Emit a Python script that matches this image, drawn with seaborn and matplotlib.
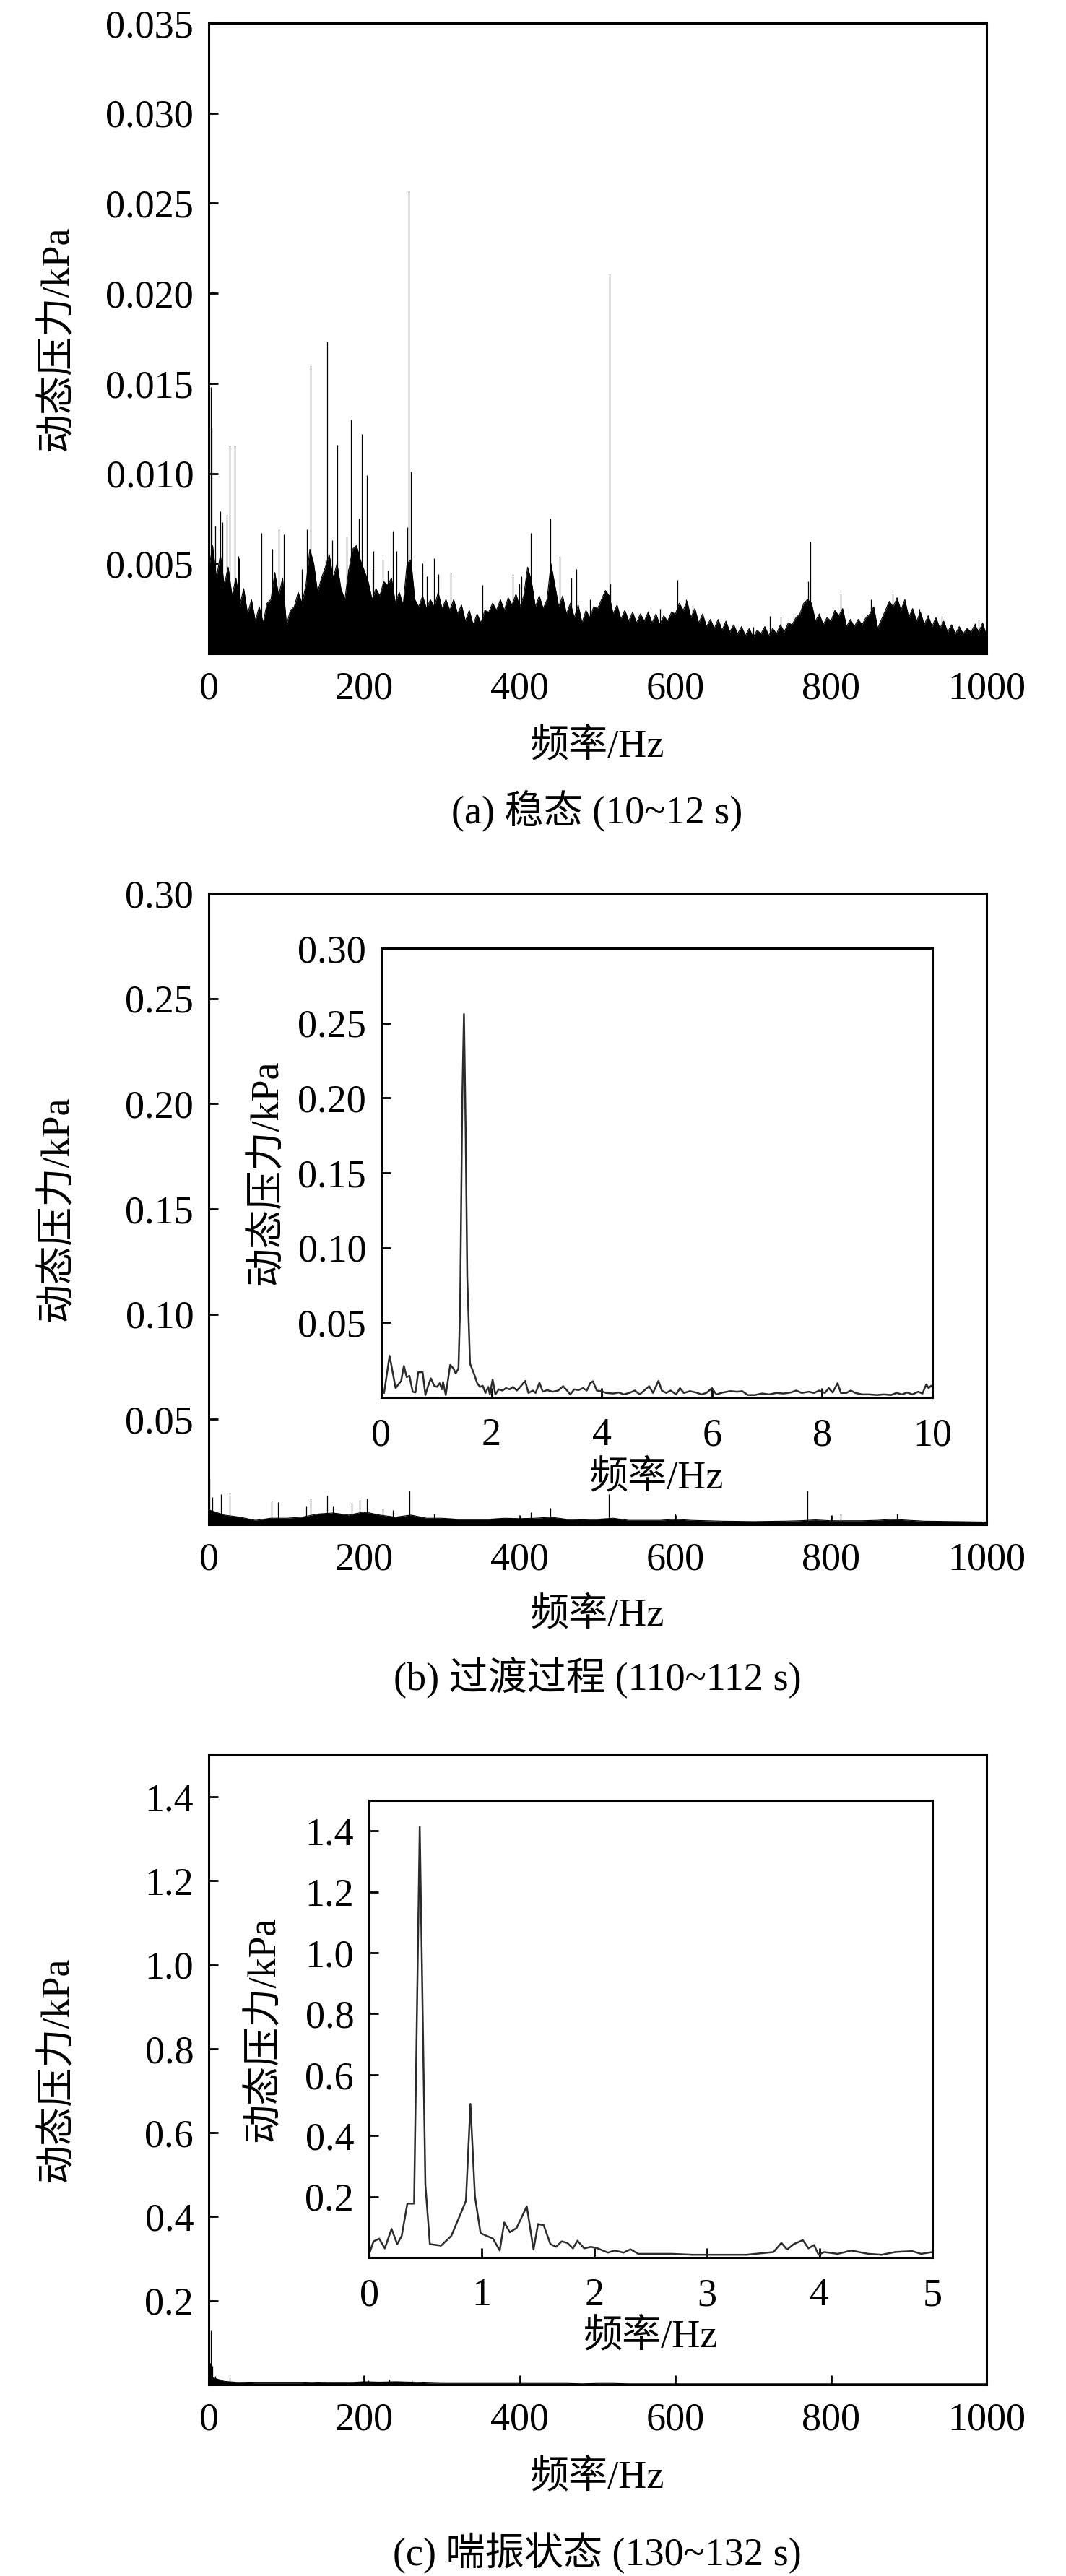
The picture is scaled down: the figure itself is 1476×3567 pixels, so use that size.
import numpy as np
import matplotlib
matplotlib.use("Agg")
import matplotlib.pyplot as plt
from matplotlib.ticker import FormatStrFormatter
import seaborn as sns

# ==============================================================
# DADOS
# ==============================================================
XLABEL = "频率/Hz"
YLABEL = "动态压力/kPa"
CAPTIONS = ["(a) 稳态 (10~12 s)", "(b) 过渡过程 (110~112 s)", "(c) 喘振状态 (130~132 s)"]

# (a) estado estável: topo da massa de ruído em 0, 10, ..., 1000 Hz
A_BAND_BASE = [
    0.0046, 0.0042, 0.0038, 0.0032, 0.0027, 0.0022, 0.0018, 0.0017, 0.0030, 0.0032,
    0.0016, 0.0026, 0.0028, 0.0058, 0.0034, 0.0048, 0.0042, 0.0036, 0.0046, 0.0060,
    0.0046, 0.0030, 0.0032, 0.0038, 0.0028, 0.0027, 0.0052, 0.0026, 0.0025, 0.0026,
    0.0025, 0.0024, 0.0022, 0.0018, 0.0016, 0.0017, 0.0023, 0.0024, 0.0024, 0.0027,
    0.0026, 0.0048, 0.0026, 0.0025, 0.0050, 0.0026, 0.0022, 0.0020, 0.0017, 0.0020,
    0.0025, 0.0035, 0.0022, 0.0019, 0.0018, 0.0017, 0.0018, 0.0017, 0.0016, 0.0018,
    0.0022, 0.0024, 0.0020, 0.0017, 0.0015, 0.0014, 0.0013, 0.0012, 0.0011, 0.0010,
    0.0009, 0.0011, 0.0010, 0.0011, 0.0012, 0.0016, 0.0022, 0.0030, 0.0018, 0.0016,
    0.0018, 0.0021, 0.0015, 0.0015, 0.0016, 0.0022, 0.0014, 0.0024, 0.0026, 0.0024,
    0.0020, 0.0018, 0.0016, 0.0015, 0.0014, 0.0012, 0.0011, 0.0011, 0.0012, 0.0012,
    0.0010,
]
# (a) pontas intermediárias em 5, 15, ..., 995 Hz
A_BAND_TIP = [
    0.0060, 0.0055, 0.0048, 0.0042, 0.0036, 0.0030, 0.0026, 0.0028, 0.0045, 0.0042,
    0.0024, 0.0034, 0.0038, 0.0050, 0.0042, 0.0055, 0.0050, 0.0030, 0.0058, 0.0052,
    0.0040, 0.0036, 0.0040, 0.0042, 0.0034, 0.0050, 0.0030, 0.0032, 0.0030, 0.0034,
    0.0030, 0.0030, 0.0027, 0.0024, 0.0022, 0.0024, 0.0028, 0.0030, 0.0031, 0.0033,
    0.0032, 0.0040, 0.0032, 0.0030, 0.0038, 0.0032, 0.0028, 0.0027, 0.0024, 0.0026,
    0.0030, 0.0032, 0.0027, 0.0024, 0.0023, 0.0022, 0.0023, 0.0022, 0.0021, 0.0023,
    0.0028, 0.0029, 0.0025, 0.0022, 0.0019, 0.0019, 0.0018, 0.0016, 0.0015, 0.0014,
    0.0013, 0.0015, 0.0014, 0.0016, 0.0017, 0.0020, 0.0028, 0.0028, 0.0022, 0.0020,
    0.0024, 0.0025, 0.0019, 0.0019, 0.0020, 0.0026, 0.0019, 0.0029, 0.0031, 0.0030,
    0.0025, 0.0023, 0.0021, 0.0020, 0.0018, 0.0016, 0.0015, 0.0014, 0.0016, 0.0017,
]
A_SPIKES = [
    (3, 0.0148), (4, 0.0125), (8, 0.0071), (15, 0.0079), (18, 0.0073), (23, 0.0077),
    (27, 0.0116), (33, 0.0116), (38, 0.0054), (39, 0.0053), (68, 0.0067), (82, 0.0058),
    (90, 0.0069), (97, 0.0066), (120, 0.0047), (126, 0.0069), (131, 0.0160),
    (150, 0.0052), (152, 0.0173), (159, 0.0063), (165, 0.0116), (177, 0.0065),
    (179, 0.0047), (183, 0.0130), (193, 0.0075), (197, 0.0122), (203, 0.0099),
    (211, 0.0047), (212, 0.0057), (224, 0.0052), (230, 0.0046), (237, 0.0068),
    (241, 0.0057), (255, 0.0070), (257, 0.0257), (260, 0.0101), (275, 0.0050),
    (280, 0.0043), (290, 0.0053), (295, 0.0044), (311, 0.0045), (352, 0.0038),
    (391, 0.0044), (399, 0.0039), (402, 0.0043), (414, 0.0067), (439, 0.0075),
    (451, 0.0054), (466, 0.0042), (473, 0.0047), (490, 0.0030), (515, 0.0211),
    (516, 0.0039), (580, 0.0025), (603, 0.0041), (614, 0.0030), (622, 0.0027),
    (700, 0.0015), (721, 0.0021), (735, 0.0020), (771, 0.0040), (773, 0.0062),
    (812, 0.0033), (851, 0.0030), (879, 0.0033), (914, 0.0025), (942, 0.0021),
    (985, 0.0017), (990, 0.0019),
]

# (b) processo de transição: topo do ruído a cada 20 Hz (0..1000)
B_BAND_KPA = [
    0.0070, 0.0045, 0.0035, 0.0020, 0.0030, 0.0030, 0.0035, 0.0050, 0.0055, 0.0045,
    0.0060, 0.0045, 0.0035, 0.0045, 0.0030, 0.0030, 0.0025, 0.0025, 0.0025, 0.0030,
    0.0028, 0.0030, 0.0035, 0.0025, 0.0022, 0.0025, 0.0030, 0.0020, 0.0020, 0.0020,
    0.0025, 0.0020, 0.0018, 0.0016, 0.0015, 0.0014, 0.0015, 0.0016, 0.0018, 0.0022,
    0.0018, 0.0018, 0.0018, 0.0020, 0.0025, 0.0020, 0.0016, 0.0015, 0.0014, 0.0013,
    0.0012,
]
B_SPIKES = [
    (1, 0.0220), (5, 0.0130), (16, 0.0144), (27, 0.0150), (81, 0.0110), (89, 0.0107),
    (125, 0.0085), (131, 0.0124), (152, 0.0136), (160, 0.0085), (184, 0.0103),
    (194, 0.0118), (203, 0.0124), (224, 0.0080), (237, 0.0070), (258, 0.0163),
    (290, 0.0050), (414, 0.0060), (439, 0.0079), (514, 0.0144), (600, 0.0052),
    (770, 0.0163), (812, 0.0050), (885, 0.0050),
]
B_INSET = [
    (0.00, 0.0030), (0.05, 0.0030), (0.15, 0.0278), (0.26, 0.0062), (0.31, 0.0087),
    (0.36, 0.0110), (0.41, 0.0210), (0.46, 0.0136), (0.51, 0.0144), (0.57, 0.0038),
    (0.62, 0.0033), (0.67, 0.0168), (0.75, 0.0168), (0.80, 0.0016), (0.85, 0.0078),
    (0.90, 0.0127), (0.96, 0.0078), (1.01, 0.0070), (1.06, 0.0095), (1.10, 0.0054),
    (1.12, 0.0103), (1.17, 0.0016), (1.25, 0.0217), (1.31, 0.0193), (1.35, 0.0160),
    (1.40, 0.0193), (1.43, 0.0600), (1.47, 0.2000), (1.50, 0.2560), (1.53, 0.1800),
    (1.56, 0.0800), (1.61, 0.0225), (1.68, 0.0160), (1.74, 0.0095), (1.79, 0.0070),
    (1.84, 0.0078), (1.89, 0.0030), (1.94, 0.0070), (1.97, 0.0020), (2.02, 0.0119),
    (2.07, 0.0020), (2.13, 0.0054), (2.20, 0.0046), (2.26, 0.0062), (2.33, 0.0054),
    (2.39, 0.0070), (2.46, 0.0046), (2.52, 0.0070), (2.61, 0.0110), (2.67, 0.0030),
    (2.75, 0.0046), (2.80, 0.0030), (2.87, 0.0098), (2.93, 0.0038), (3.01, 0.0049),
    (3.11, 0.0038), (3.21, 0.0046), (3.30, 0.0075), (3.37, 0.0046), (3.43, 0.0020),
    (3.50, 0.0054), (3.58, 0.0049), (3.66, 0.0062), (3.73, 0.0046), (3.79, 0.0095),
    (3.84, 0.0108), (3.91, 0.0046), (3.99, 0.0042), (4.08, 0.0030), (4.21, 0.0026),
    (4.31, 0.0033), (4.40, 0.0020), (4.50, 0.0030), (4.60, 0.0046), (4.69, 0.0020),
    (4.77, 0.0046), (4.86, 0.0075), (4.93, 0.0030), (5.03, 0.0110), (5.09, 0.0046),
    (5.17, 0.0030), (5.25, 0.0046), (5.35, 0.0020), (5.42, 0.0062), (5.49, 0.0030),
    (5.60, 0.0042), (5.71, 0.0033), (5.81, 0.0020), (5.90, 0.0030), (6.00, 0.0062),
    (6.08, 0.0020), (6.20, 0.0033), (6.33, 0.0042), (6.46, 0.0038), (6.55, 0.0042),
    (6.65, 0.0016), (6.78, 0.0016), (6.91, 0.0026), (7.04, 0.0020), (7.17, 0.0030),
    (7.30, 0.0026), (7.43, 0.0033), (7.53, 0.0046), (7.63, 0.0030), (7.76, 0.0038),
    (7.85, 0.0030), (7.95, 0.0046), (8.05, 0.0030), (8.12, 0.0062), (8.19, 0.0033),
    (8.28, 0.0095), (8.34, 0.0030), (8.44, 0.0030), (8.52, 0.0046), (8.60, 0.0030),
    (8.73, 0.0020), (8.86, 0.0020), (8.99, 0.0016), (9.12, 0.0020), (9.25, 0.0016),
    (9.35, 0.0030), (9.45, 0.0020), (9.54, 0.0033), (9.64, 0.0020), (9.74, 0.0038),
    (9.82, 0.0026), (9.89, 0.0087), (9.93, 0.0062), (9.98, 0.0078),
]

# (c) surge: topo do ruído a cada 20 Hz (0..1000)
C_BAND_KPA = [
    0.020, 0.008, 0.005, 0.004, 0.004, 0.004, 0.004, 0.006, 0.005, 0.005,
    0.007, 0.006, 0.007, 0.006, 0.004, 0.003, 0.003, 0.003, 0.003, 0.003,
    0.003, 0.003, 0.003, 0.003, 0.002, 0.003, 0.003, 0.002, 0.002, 0.002,
    0.002, 0.002, 0.002, 0.002, 0.002, 0.002, 0.002, 0.002, 0.002, 0.002,
    0.002, 0.002, 0.002, 0.002, 0.002, 0.002, 0.002, 0.002, 0.002, 0.002,
    0.002,
]
C_SPIKES = [
    (2, 0.052), (3, 0.129), (5, 0.045), (8, 0.020), (12, 0.012), (27, 0.018),
    (140, 0.007), (205, 0.010), (232, 0.012), (262, 0.009),
]
C_INSET = [
    (0.00, 0.010), (0.04, 0.053), (0.09, 0.062), (0.14, 0.030), (0.20, 0.094),
    (0.25, 0.044), (0.29, 0.071), (0.34, 0.177), (0.40, 0.177), (0.45, 1.414),
    (0.50, 0.240), (0.54, 0.044), (0.64, 0.039), (0.73, 0.071), (0.82, 0.150),
    (0.86, 0.186), (0.90, 0.504), (0.94, 0.200), (0.99, 0.080), (1.10, 0.062),
    (1.16, 0.023), (1.20, 0.115), (1.25, 0.083), (1.31, 0.097), (1.40, 0.168),
    (1.46, 0.026), (1.50, 0.110), (1.55, 0.106), (1.61, 0.044), (1.66, 0.035),
    (1.71, 0.053), (1.76, 0.048), (1.81, 0.030), (1.85, 0.055), (1.91, 0.030),
    (1.97, 0.035), (2.03, 0.030), (2.12, 0.016), (2.18, 0.023), (2.26, 0.016),
    (2.32, 0.027), (2.39, 0.012), (2.51, 0.012), (2.69, 0.012), (2.87, 0.009),
    (3.11, 0.009), (3.35, 0.009), (3.59, 0.018), (3.66, 0.048), (3.71, 0.026),
    (3.77, 0.044), (3.85, 0.057), (3.90, 0.030), (3.95, 0.041), (3.99, 0.009),
    (4.04, 0.018), (4.16, 0.012), (4.28, 0.023), (4.43, 0.012), (4.55, 0.009),
    (4.67, 0.018), (4.82, 0.021), (4.90, 0.012), (5.00, 0.018),
]

# ==============================================================
# ESTILO
# ==============================================================
sns.set_theme(style="ticks")
plt.rcParams.update({
    "font.family": ["Liberation Serif", "Noto Sans CJK SC"],
    "font.size": 39,
    "axes.labelsize": 39,
    "axes.linewidth": 2.2,
    "axes.edgecolor": "black",
    "axes.facecolor": "white",
    "xtick.direction": "in",
    "ytick.direction": "in",
    "xtick.major.size": 9.5,
    "ytick.major.size": 9.5,
    "xtick.major.width": 2.0,
    "ytick.major.width": 2.0,
    "xtick.labelsize": 39,
    "ytick.labelsize": 39,
    "xtick.color": "black",
    "ytick.color": "black",
    "text.color": "black",
    "axes.labelcolor": "black",
})

W, H = 1476, 3567


def rect(left, top, right, bottom):
    return [left / W, 1 - bottom / H, (right - left) / W, (bottom - top) / H]


def draw_spectrum(ax, band_hz, band_kpa, spikes):
    ax.fill_between(band_hz, 0, band_kpa, color="black", lw=0)
    sns.lineplot(x=band_hz, y=band_kpa, ax=ax, color="black", lw=0.8, estimator=None)
    hz, kpa = zip(*spikes)
    ax.vlines(hz, 0, kpa, color="black", lw=0.9)


def draw_inset(ax, pts):
    hz, kpa = zip(*pts)
    sns.lineplot(x=list(hz), y=list(kpa), ax=ax, color="#2b2b2b", lw=1.8,
                 estimator=None, sort=False)


def style(ax, xlim, xticks, ylim, yticks, yfmt, xlab_y, ylab_x, pad=17):
    ax.set_xlim(*xlim)
    ax.set_ylim(*ylim)
    ax.set_xticks(xticks)
    ax.set_yticks(yticks)
    ax.yaxis.set_major_formatter(FormatStrFormatter(yfmt))
    ax.tick_params(axis="x", pad=pad)
    ax.tick_params(axis="y", pad=15)
    ax.set_xlabel(XLABEL, va="center")
    ax.set_ylabel(YLABEL, va="center")
    ax.xaxis.set_label_coords(0.5, xlab_y)
    ax.yaxis.set_label_coords(ylab_x, 0.5)
    for s in ax.spines.values():
        s.set_visible(True)
        s.set_linewidth(2.2)
        s.set_color("black")


fig = plt.figure(figsize=(W / 100, H / 100), dpi=100)
main_ticks = [0, 200, 400, 600, 800, 1000]

# -------- (a) --------
a_hz = np.concatenate([np.arange(0, 1001, 10), np.arange(5, 1000, 10)])
a_kpa = np.concatenate([A_BAND_BASE, A_BAND_TIP])
order = np.argsort(a_hz)
ax_a = fig.add_axes(rect(289, 32, 1366, 905))
draw_spectrum(ax_a, a_hz[order], a_kpa[order], A_SPIKES)
style(ax_a, (0, 1000), main_ticks, (0, 0.035),
      [0.005, 0.010, 0.015, 0.020, 0.025, 0.030, 0.035], "%.3f", -0.148, -0.194)
fig.text(827 / W, 1 - 1123 / H, CAPTIONS[0], ha="center", va="center")

# -------- (b) --------
ax_b = fig.add_axes(rect(289, 1237, 1366, 2111))
draw_spectrum(ax_b, np.linspace(0, 1000, len(B_BAND_KPA)), B_BAND_KPA, B_SPIKES)
style(ax_b, (0, 1000), main_ticks, (0, 0.30),
      [0.05, 0.10, 0.15, 0.20, 0.25, 0.30], "%.2f", -0.145, -0.194)
fig.text(827 / W, 1 - 2324 / H, CAPTIONS[1], ha="center", va="center")

ax_bi = fig.add_axes(rect(528, 1313, 1291, 1935))
draw_inset(ax_bi, B_INSET)
style(ax_bi, (0, 10), [0, 2, 4, 6, 8, 10], (0, 0.30),
      [0.05, 0.10, 0.15, 0.20, 0.25, 0.30], "%.2f", -0.18, -0.207, pad=20)

# -------- (c) --------
ax_c = fig.add_axes(rect(289, 2430, 1366, 3302))
draw_spectrum(ax_c, np.linspace(0, 1000, len(C_BAND_KPA)), C_BAND_KPA, C_SPIKES)
style(ax_c, (0, 1000), main_ticks, (0, 1.5),
      [0.2, 0.4, 0.6, 0.8, 1.0, 1.2, 1.4], "%.1f", -0.148, -0.194)
fig.text(827 / W, 1 - 3535 / H, CAPTIONS[2], ha="center", va="center")

ax_ci = fig.add_axes(rect(511, 2493, 1291, 3126))
draw_inset(ax_ci, C_INSET)
style(ax_ci, (0, 5), [0, 1, 2, 3, 4, 5], (0, 1.5),
      [0.2, 0.4, 0.6, 0.8, 1.0, 1.2, 1.4], "%.1f", -0.175, -0.185, pad=20)

fig.savefig("out.png", dpi=100, facecolor="white")
